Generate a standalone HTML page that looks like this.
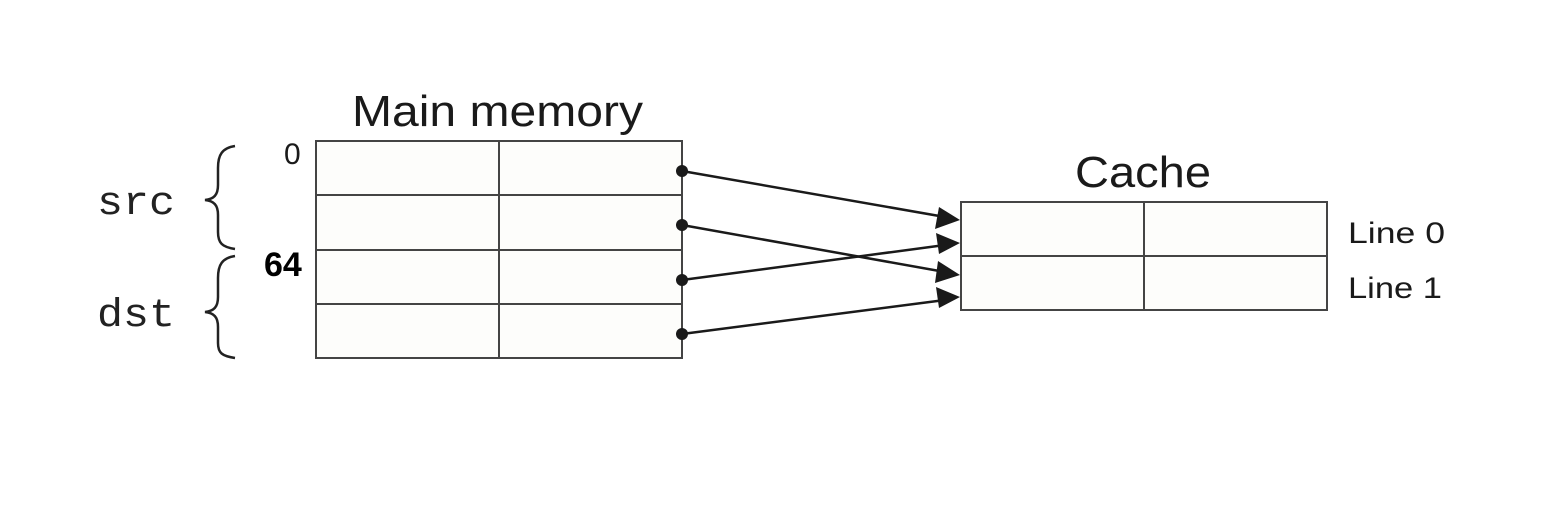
<!DOCTYPE html>
<html><head><style>
body{margin:0;background:#fff;}
svg{display:block;}
</style></head><body>
<svg width="1550" height="510" viewBox="0 0 1550 510" xmlns="http://www.w3.org/2000/svg">
<rect width="1550" height="510" fill="#fff"/>
<g font-family="Liberation Sans, sans-serif" fill="#1a1a1a">
<text x="352" y="126" font-size="44" textLength="291" lengthAdjust="spacingAndGlyphs">Main memory</text>
<text x="1075" y="187" font-size="44" textLength="136" lengthAdjust="spacingAndGlyphs">Cache</text>
<text x="1348" y="243" font-size="30" textLength="97" lengthAdjust="spacingAndGlyphs">Line 0</text>
<text x="1348" y="298" font-size="30" textLength="94" lengthAdjust="spacingAndGlyphs">Line 1</text>
<text x="284" y="164" font-size="30">0</text>
<text x="264" y="276" font-size="34" font-weight="bold" fill="#000">64</text>
</g>
<g font-family="Liberation Mono, monospace" font-size="40" fill="#222">
<text x="97" y="214" textLength="78" lengthAdjust="spacingAndGlyphs">src</text>
<text x="97" y="326" textLength="78" lengthAdjust="spacingAndGlyphs">dst</text>
</g>
<g fill="#fdfdfb" stroke="#444" stroke-width="2">
<rect x="316" y="141" width="366" height="217"/>
<rect x="961" y="202" width="366" height="108"/>
</g>
<g stroke="#444" stroke-width="2">
<line x1="316" y1="195" x2="682" y2="195"/>
<line x1="316" y1="250" x2="682" y2="250"/>
<line x1="316" y1="304" x2="682" y2="304"/>
<line x1="499" y1="141" x2="499" y2="358"/>
<line x1="961" y1="256" x2="1327" y2="256"/>
<line x1="1144" y1="202" x2="1144" y2="310"/>
</g>
<g fill="none" stroke="#222" stroke-width="2.5">
<path d="M235 146 C222 148 218 155 218 168 L218 185 C218 195 214 199 205 200 C214 201 218 205 218 215 L218 232 C218 243 222 247 235 249"/>
<path d="M235 256 C222 258 218 265 218 278 L218 297 C218 307 214 311 205 312 C214 313 218 317 218 327 L218 343 C218 353 222 356 235 358"/>
</g>
<g stroke="#1a1a1a" stroke-width="2.5" fill="none">
<line x1="682" y1="171" x2="945" y2="217"/>
<line x1="682" y1="225" x2="945" y2="272"/>
<line x1="682" y1="280" x2="945" y2="245"/>
<line x1="682" y1="334" x2="945" y2="300"/>
</g>
<g fill="#1a1a1a">
<circle cx="682" cy="171" r="6"/>
<circle cx="682" cy="225" r="6"/>
<circle cx="682" cy="280" r="6"/>
<circle cx="682" cy="334" r="6"/>
<polygon points="960,220 939,207 935,229"/>
<polygon points="960,275 938,261 935,283"/>
<polygon points="960,243 936,233 939,254"/>
<polygon points="960,297 936,287 939,308"/>
</g>
</svg>
</body></html>
